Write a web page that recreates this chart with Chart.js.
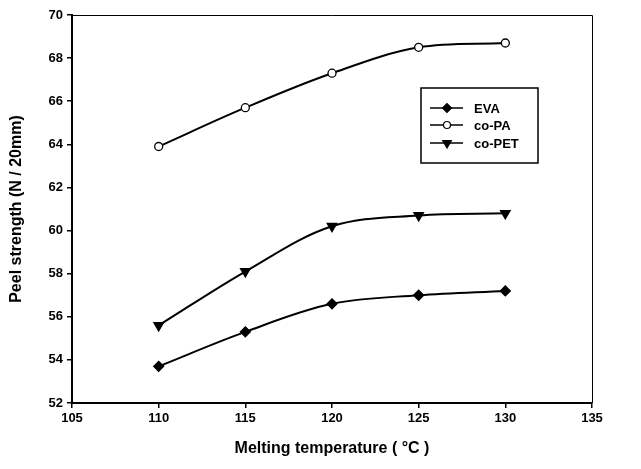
<!DOCTYPE html>
<html>
<head>
<meta charset="utf-8">
<script src="https://cdn.jsdelivr.net/npm/chart.js@4"></script>
<style>
  html, body { margin: 0; padding: 0; background: #fff; }
  #wrap { width: 641px; height: 469px; }
</style>
</head>
<body>
<div id="wrap"><canvas id="myChart"></canvas></div>
<script>
// datos
const temps = [110, 115, 120, 125, 130];
const eva = [53.7, 55.3, 56.6, 57.0, 57.2];
const coPA = [63.9, 65.7, 67.3, 68.5, 68.7];
const coPET = [55.6, 58.1, 60.2, 60.7, 60.8];
const xTicks = [105, 110, 115, 120, 125, 130, 135];
const yTicks = [52, 54, 56, 58, 60, 62, 64, 66, 68, 70];

const toPts = (vals) => vals.map((v, i) => ({ x: temps[i], y: v }));

const datasets = [
  { label: "EVA", data: toPts(eva), pointStyle: "rectRot", pointRadius: 5, backgroundColor: "#000", rotation: 0 },
  { label: "co-PA", data: toPts(coPA), pointStyle: "circle", pointRadius: 4, backgroundColor: "#fff", rotation: 0 },
  { label: "co-PET", data: toPts(coPET), pointStyle: "triangle", pointRadius: 5.5, backgroundColor: "#000", rotation: 180 }
].map(d => Object.assign({
  borderColor: "#000",
  borderWidth: 2,
  pointBorderColor: "#000",
  pointBorderWidth: 1.3,
  pointBackgroundColor: d.backgroundColor,
  tension: 0.35,
  fill: false
}, d));

// marco superior/derecho y leyenda dentro del area
const framePlugin = {
  id: "frame",
  afterDraw(chart) {
    const ctx = chart.ctx;
    const a = chart.chartArea;
    ctx.save();
    ctx.strokeStyle = "#000";
    ctx.lineWidth = 1;
    ctx.beginPath();
    ctx.moveTo(a.left, a.top + 0.5);
    ctx.lineTo(a.right + 0.5, a.top + 0.5);
    ctx.lineTo(a.right + 0.5, a.bottom);
    ctx.stroke();

    // leyenda
    ctx.lineWidth = 1.5;
    ctx.strokeRect(421, 88, 117, 75);
    const rows = [108, 125, 143];
    ctx.font = "bold 13px 'Liberation Sans', Arial, sans-serif";
    ctx.textBaseline = "middle";
    chart.data.datasets.forEach((d, i) => {
      const y = rows[i];
      ctx.strokeStyle = "#000";
      ctx.lineWidth = 1.5;
      ctx.beginPath();
      ctx.moveTo(430, y);
      ctx.lineTo(463, y);
      ctx.stroke();
      ctx.fillStyle = d.pointBackgroundColor;
      ctx.lineWidth = 1.2;
      Chart.helpers.drawPoint(ctx, {
        pointStyle: d.pointStyle,
        radius: d.pointRadius - 0.5,
        rotation: d.rotation,
        borderWidth: 1.2
      }, 447, y);
      ctx.fillStyle = "#000";
      ctx.fillText(d.label, 474, y + 1);
    });
    ctx.restore();
  }
};

const tickFont = { family: "'Liberation Sans', Arial, sans-serif", size: 13, weight: "bold" };
const titleFont = { family: "'Liberation Sans', Arial, sans-serif", size: 16, weight: "bold" };

new Chart(document.getElementById("myChart"), {
  type: "line",
  data: { datasets },
  options: {
    responsive: true,
    maintainAspectRatio: false,
    animation: false,
    layout: { padding: { top: 15, right: 49, left: 0, bottom: 0 } },
    plugins: { legend: { display: false }, tooltip: { enabled: false } },
    scales: {
      x: {
        type: "linear",
        min: 105,
        max: 135,
        afterBuildTicks(scale) { scale.ticks = xTicks.map(v => ({ value: v })); },
        ticks: { color: "#000", font: tickFont, padding: 3, maxRotation: 0 },
        grid: { drawOnChartArea: false, drawTicks: true, tickLength: 5, color: "#000", lineWidth: 1.5 },
        border: { display: true, color: "#000", width: 2 },
        title: { display: true, text: "Melting temperature ( °C )", color: "#000",
                 font: titleFont, padding: { top: 4, bottom: 11 } },
        afterFit(scale) { scale.height = 66; }
      },
      y: {
        min: 52,
        max: 70,
        afterBuildTicks(scale) { scale.ticks = yTicks.map(v => ({ value: v })); },
        ticks: { color: "#000", font: tickFont, padding: 4 },
        grid: { drawOnChartArea: false, drawTicks: true, tickLength: 5, color: "#000", lineWidth: 1.5 },
        border: { display: true, color: "#000", width: 2 },
        title: { display: true, text: "Peel strength (N / 20mm)", color: "#000",
                 font: titleFont, padding: { top: 7, bottom: 4 } },
        afterFit(scale) { scale.width = 72; }
      }
    }
  },
  plugins: [framePlugin]
});
</script>
</body>
</html>
